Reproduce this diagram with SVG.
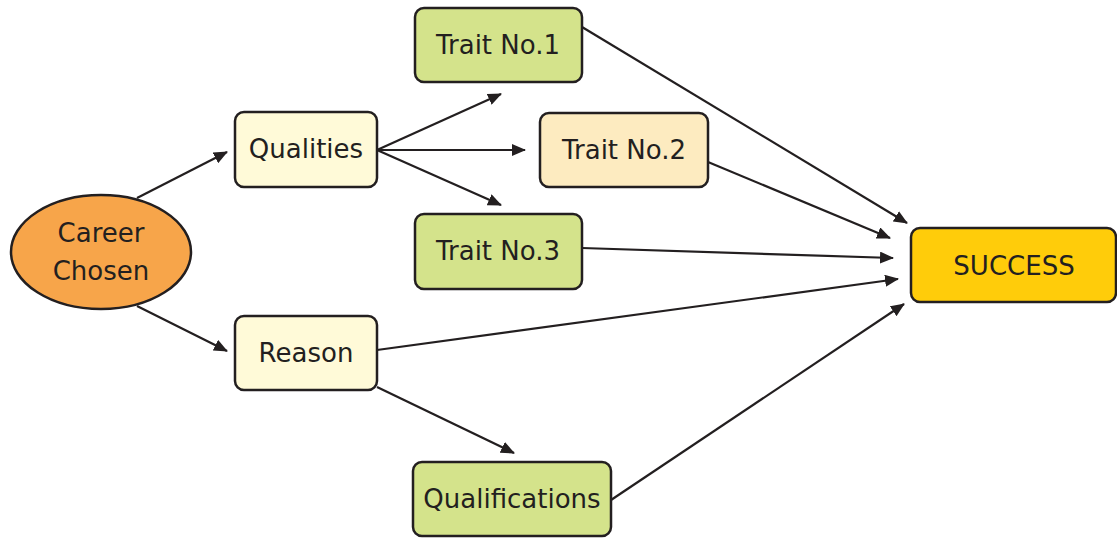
<svg xmlns="http://www.w3.org/2000/svg" width="1117" height="539" viewBox="0 0 1117 539">
<style>
.n{stroke:#231F20;stroke-width:2.5}
.t{font-family:"DejaVu Sans",sans-serif;font-size:26px;fill:#231F20;text-anchor:middle;dominant-baseline:central}
.c line{stroke:#231F20;stroke-width:2.2;marker-end:url(#b)}
</style>
<defs>
<marker id="b" viewBox="0 0 14 12" refX="13" refY="6" markerWidth="14" markerHeight="12" markerUnits="userSpaceOnUse" orient="auto">
<path d="M0,0L14,6L0,12z" fill="#231F20"/>
</marker>
</defs>
<rect width="1117" height="539" fill="#fff"/>
<g class="c" id="connectors">
<line x1="137" y1="198" x2="227" y2="152"/>
<line x1="137" y1="306" x2="227" y2="351"/>
<line x1="377" y1="150" x2="501" y2="94"/>
<line x1="377" y1="150" x2="525" y2="150"/>
<line x1="377" y1="150" x2="501" y2="205"/>
<line x1="582" y1="27" x2="907" y2="223"/>
<line x1="708" y1="162" x2="890" y2="238"/>
<line x1="582" y1="248" x2="893" y2="258"/>
<line x1="377" y1="350" x2="898" y2="279"/>
<line x1="377" y1="387" x2="514" y2="453"/>
<line x1="611" y1="500" x2="904" y2="304"/>
</g>
<g id="career"><ellipse class="n" cx="101" cy="252" rx="90" ry="57" fill="#F7A54A"/><text class="t" x="101" y="233">Career</text><text class="t" x="101" y="271">Chosen</text></g>
<g id="qualities"><rect class="n" x="235" y="112" width="142" height="75" rx="9" fill="#FFFAD8"/><text class="t" x="306" y="149">Qualities</text></g>
<g id="reason"><rect class="n" x="235" y="316" width="142" height="74" rx="9" fill="#FFFAD8"/><text class="t" x="306" y="353">Reason</text></g>
<g id="trait1"><rect class="n" x="415" y="8" width="167" height="74" rx="9" fill="#D4E38B"/><text class="t" x="498" y="45">Trait No.1</text></g>
<g id="trait2"><rect class="n" x="540" y="113" width="168" height="74" rx="9" fill="#FDEBC0"/><text class="t" x="624" y="150">Trait No.2</text></g>
<g id="trait3"><rect class="n" x="415" y="214" width="167" height="75" rx="9" fill="#D4E38B"/><text class="t" x="498" y="251">Trait No.3</text></g>
<g id="qualifications"><rect class="n" x="413" y="462" width="198" height="74" rx="9" fill="#D4E38B"/><text class="t" x="512" y="499">Qualifications</text></g>
<g id="success"><rect class="n" x="911" y="228" width="205" height="74" rx="9" fill="#FFCC0A"/><text class="t" x="1014" y="266">SUCCESS</text></g>
</svg>
